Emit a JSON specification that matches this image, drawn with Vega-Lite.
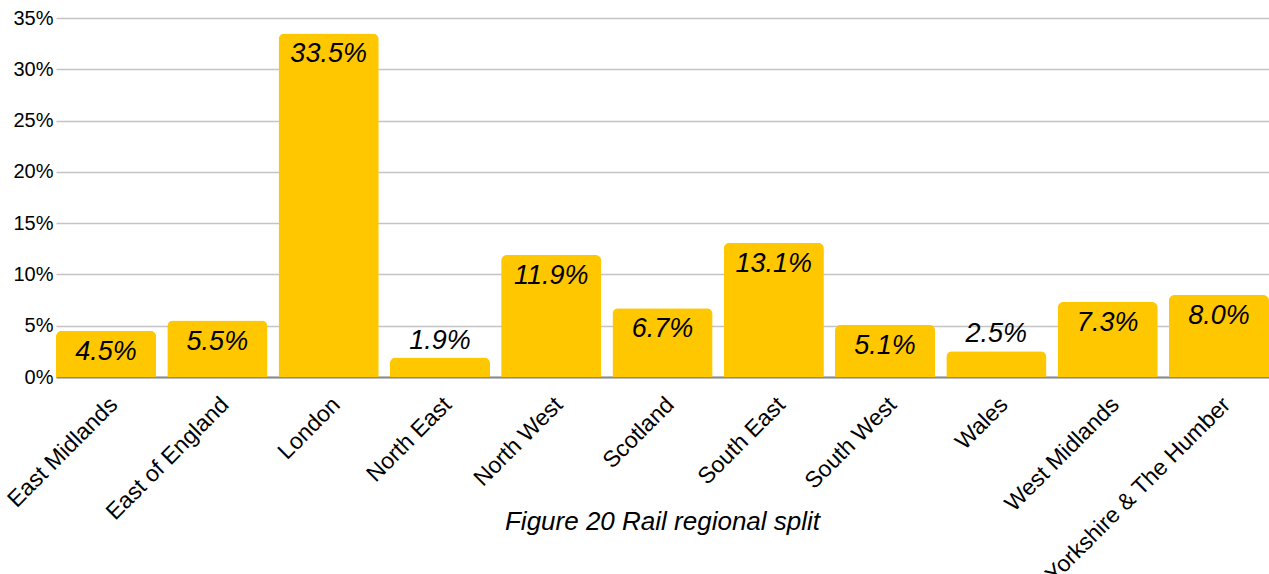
{
  "$schema": "https://vega.github.io/schema/vega-lite/v6.json",
  "width": 1213,
  "height": 359,
  "autosize": "none",
  "padding": {"left": 56, "top": 18, "right": 0, "bottom": 197},
  "background": "white",
  "title": {
    "text": "Figure 20 Rail regional split",
    "orient": "top",
    "anchor": "middle",
    "frame": "group",
    "baseline": "alphabetic",
    "offset": 0,
    "dy": 548,
    "font": "Liberation Sans",
    "fontSize": 26,
    "fontStyle": "italic",
    "fontWeight": "normal",
    "color": "#000000"
  },
  "config": {
    "view": {"stroke": null},
    "font": "Liberation Sans"
  },
  "data": {
    "values": [
      {"region": "East Midlands", "share": 0.045},
      {"region": "East of England", "share": 0.055},
      {"region": "London", "share": 0.335},
      {"region": "North East", "share": 0.019},
      {"region": "North West", "share": 0.119},
      {"region": "Scotland", "share": 0.067},
      {"region": "South East", "share": 0.131},
      {"region": "South West", "share": 0.051},
      {"region": "Wales", "share": 0.025},
      {"region": "West Midlands", "share": 0.073},
      {"region": "Yorkshire & The Humber", "share": 0.080}
    ]
  },
  "encoding": {
    "x": {
      "field": "region",
      "type": "nominal",
      "sort": null,
      "scale": {"paddingInner": 0.1, "paddingOuter": 0},
      "axis": {
        "title": null,
        "labelAngle": -45,
        "labelFontSize": 23,
        "labelColor": "#000000",
        "labelFont": "Liberation Sans",
        "labelPadding": 16,
        "ticks": false,
        "domain": true,
        "domainColor": "#8a8a8a",
        "domainWidth": 2,
        "labelOverlap": false,
        "labelLimit": 0
      }
    },
    "y": {
      "field": "share",
      "type": "quantitative",
      "scale": {"domain": [0, 0.35], "nice": false},
      "axis": {
        "title": null,
        "values": [0, 0.05, 0.1, 0.15, 0.2, 0.25, 0.3, 0.35],
        "format": ".0%",
        "labelFontSize": 20,
        "labelColor": "#000000",
        "labelFont": "Liberation Sans",
        "labelPadding": 3,
        "ticks": false,
        "domain": false,
        "grid": true,
        "gridColor": "#c4c4c4",
        "gridWidth": 1.5
      }
    }
  },
  "layer": [
    {
      "mark": {"type": "bar", "color": "#FFC700", "cornerRadiusTopLeft": 6, "cornerRadiusTopRight": 6}
    },
    {
      "transform": [{"filter": "datum.share >= 0.03"}],
      "mark": {"type": "text", "baseline": "alphabetic", "dy": 29, "fontSize": 27, "fontStyle": "italic", "font": "Liberation Sans", "color": "#000000"},
      "encoding": {"text": {"field": "share", "type": "quantitative", "format": ".1%"}}
    },
    {
      "transform": [{"filter": "datum.share < 0.03"}],
      "mark": {"type": "text", "baseline": "alphabetic", "dy": -9, "fontSize": 27, "fontStyle": "italic", "font": "Liberation Sans", "color": "#000000"},
      "encoding": {"text": {"field": "share", "type": "quantitative", "format": ".1%"}}
    }
  ]
}
